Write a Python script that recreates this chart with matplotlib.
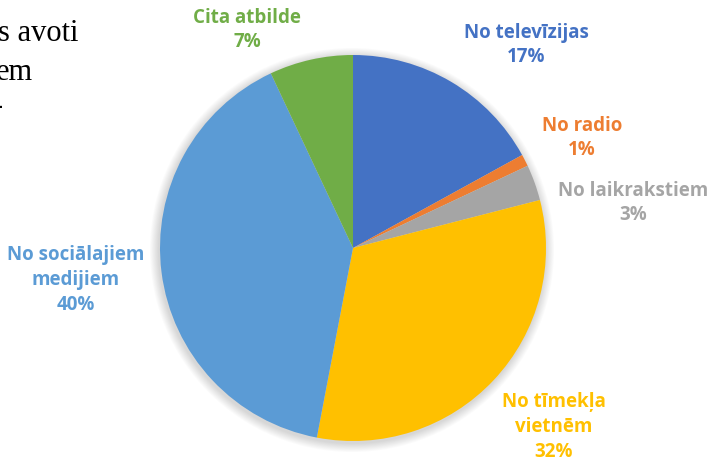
import matplotlib
matplotlib.use("Agg")
import matplotlib.pyplot as plt
from matplotlib.patches import Circle

labels = ["No televīzijas", "No radio", "No laikrakstiem", "No tīmekļa\nvietnēm",
          "No sociālajiem\nmedijiem", "Cita atbilde"]
values = [17, 1, 3, 32, 40, 7]
colors = ["#4472C4", "#ED7D31", "#A5A5A5", "#FFC000", "#5B9BD5", "#70AD47"]

W, H = 709, 462
fig = plt.figure(figsize=(W / 100, H / 100), dpi=100)
ax = fig.add_axes([0, 0, 1, 1])
ax.set_xlim(0, W)
ax.set_ylim(0, H)
ax.set_aspect("equal")
ax.axis("off")

cx, cy, r = 353, H - 248, 193

# soft shadow
for i in range(10):
    ax.add_patch(Circle((cx - 1, cy - 2), r + 1 + i * 0.9, color="black",
                        alpha=0.015, lw=0, zorder=0))

ax.pie(values, colors=colors, startangle=90, counterclock=False,
       center=(cx, cy), radius=r, frame=True,
       wedgeprops=dict(linewidth=0, antialiased=True))
ax.set_xlim(0, W)
ax.set_ylim(0, H)
ax.axis("off")

label_pos = [(526, 45), (582, 138), (633, 203), (554, 427), (76, 280), (247, 30)]
for lab, v, c, (x, y) in zip(labels, values, colors, label_pos):
    ax.text(x, H - y, f"{lab}\n{v}%", color=c, ha="center", va="center",
            fontsize=13.5, fontweight="bold", family="Open Sans",
            linespacing=1.32)

# cropped body text at top-left
serif = dict(family="Liberation Serif", fontsize=22, color="black",
             ha="left", va="baseline")
ax.text(-2, H - 41, "s avoti", **serif)
ax.text(-4, H - 80, "em", **serif)
ax.text(-7, H - 114, "-", **serif)

fig.savefig("out.png", dpi=100)
